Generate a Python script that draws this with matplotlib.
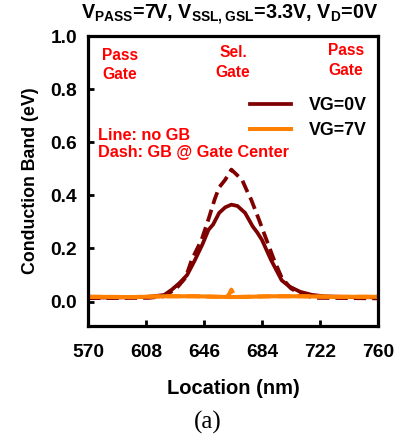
import matplotlib
matplotlib.use("Agg")
import matplotlib.pyplot as plt

# -----------------------------
# Data
# -----------------------------
loc_vg0_line = [570, 600, 610, 620, 625, 630, 635, 640, 645, 649, 652, 656, 660, 664,
                668, 673, 678, 681, 684, 690, 697, 702, 709, 717, 725, 740, 760]
cb_vg0_line = [0.015, 0.016, 0.018, 0.025, 0.045, 0.07, 0.10, 0.155, 0.215, 0.27, 0.29,
               0.334, 0.355, 0.365, 0.36, 0.334, 0.283, 0.26, 0.233, 0.157, 0.08, 0.057,
               0.037, 0.025, 0.02, 0.017, 0.016]

loc_vg0_dash = [570, 610, 620, 628, 634, 638, 644.5, 649, 653, 656, 660, 664, 668, 671,
                674, 677, 682, 687, 692, 697, 703, 710, 720, 760]
cb_vg0_dash = [0.013, 0.014, 0.02, 0.05, 0.09, 0.157, 0.233, 0.31, 0.384, 0.43, 0.459,
               0.497, 0.475, 0.459, 0.42, 0.384, 0.31, 0.233, 0.157, 0.09, 0.05, 0.025,
               0.014, 0.012]

loc_vg7_line = [570, 600, 620, 640, 655, 664, 675, 690, 710, 730, 760]
cb_vg7_line = [0.018, 0.017, 0.02, 0.02, 0.018, 0.017, 0.018, 0.02, 0.02, 0.018, 0.018]

loc_vg7_dash = [570, 600, 620, 640, 655, 660, 662, 664, 666, 668, 675, 690, 710, 730, 760]
cb_vg7_dash = [0.018, 0.017, 0.02, 0.02, 0.018, 0.017, 0.022, 0.045, 0.022, 0.017, 0.018,
               0.02, 0.02, 0.018, 0.018]

x_ticks = [570, 608, 646, 684, 722, 760]
y_ticks = [0.0, 0.2, 0.4, 0.6, 0.8, 1.0]

DARKRED = "#7f0000"
ORANGE = "#ff8000"
RED = "#ff0000"

# -----------------------------
# Style
# -----------------------------
plt.rcParams["font.family"] = ["Liberation Sans", "DejaVu Sans"]
plt.rcParams["font.weight"] = "bold"
plt.rcParams["mathtext.fontset"] = "custom"
plt.rcParams["mathtext.rm"] = "Liberation Sans:bold"
plt.rcParams["mathtext.bf"] = "Liberation Sans:bold"
plt.rcParams["mathtext.default"] = "bf"

fig = plt.figure(figsize=(4.01, 4.37), dpi=100)
ax = fig.add_axes([0.2195, 0.254, 0.7225, 0.6636])

ax.plot(loc_vg0_line, cb_vg0_line, color=DARKRED, lw=2.7, label="VG=0V")
ax.plot(loc_vg0_dash, cb_vg0_dash, color=DARKRED, lw=2.7, dashes=(3.3, 1.6))
ax.plot(loc_vg7_line, cb_vg7_line, color=ORANGE, lw=2.9, label="VG=7V")
ax.plot(loc_vg7_dash, cb_vg7_dash, color=ORANGE, lw=2.9, dashes=(3.3, 1.6))

ax.set_xlim(570, 760)
ax.set_ylim(-0.092, 1.0)
ax.set_xticks(x_ticks)
ax.set_yticks(y_ticks)
ax.set_yticklabels([f"{v:.1f}" for v in y_ticks])
ax.tick_params(direction="in", length=4, width=2, labelsize=13.8)
ax.tick_params(axis="x", pad=13)
ax.tick_params(axis="y", pad=8)
for lab in ax.get_xticklabels() + ax.get_yticklabels():
    lab.set_fontweight("bold")
for sp in ax.spines.values():
    sp.set_linewidth(2.3)

ax.set_xlabel("Location (nm)", fontsize=14.5, fontweight="bold", labelpad=13)
ax.set_ylabel("Conduction Band (eV)", fontsize=12.8, fontweight="bold", labelpad=8)

fig.text(0.573, 0.966, r"$V_{PASS}$=7V, $V_{SSL,GSL}$=3.3V, $V_D$=0V",
         ha="center", va="center", fontsize=14.2, fontweight="bold")

# gate labels
for xx, yy, txt in [(0.11, 0.96, "Pass\nGate"), (0.5, 0.97, "Sel.\nGate"),
                    (0.89, 0.975, "Pass\nGate")]:
    ax.text(xx, yy, txt, transform=ax.transAxes, ha="center", va="top",
            color=RED, fontsize=11.2, fontweight="bold", linespacing=1.4)

ax.text(0.035, 0.628, "Line: no GB\nDash: GB @ Gate Center", transform=ax.transAxes,
        ha="left", va="center", color=RED, fontsize=11.7, fontweight="bold",
        linespacing=1.2)

leg = ax.legend(loc="upper right", bbox_to_anchor=(1.0, 0.825), frameon=False,
                prop={"weight": "bold", "size": 12.8}, handlelength=2.3,
                handletextpad=1.0, labelspacing=0.45, borderaxespad=0.2)

fig.text(0.518, 0.034, "(a)", ha="center", va="center", fontsize=18,
         family=["Liberation Serif", "DejaVu Serif"], fontweight="normal")

fig.savefig("out.png", dpi=100)
